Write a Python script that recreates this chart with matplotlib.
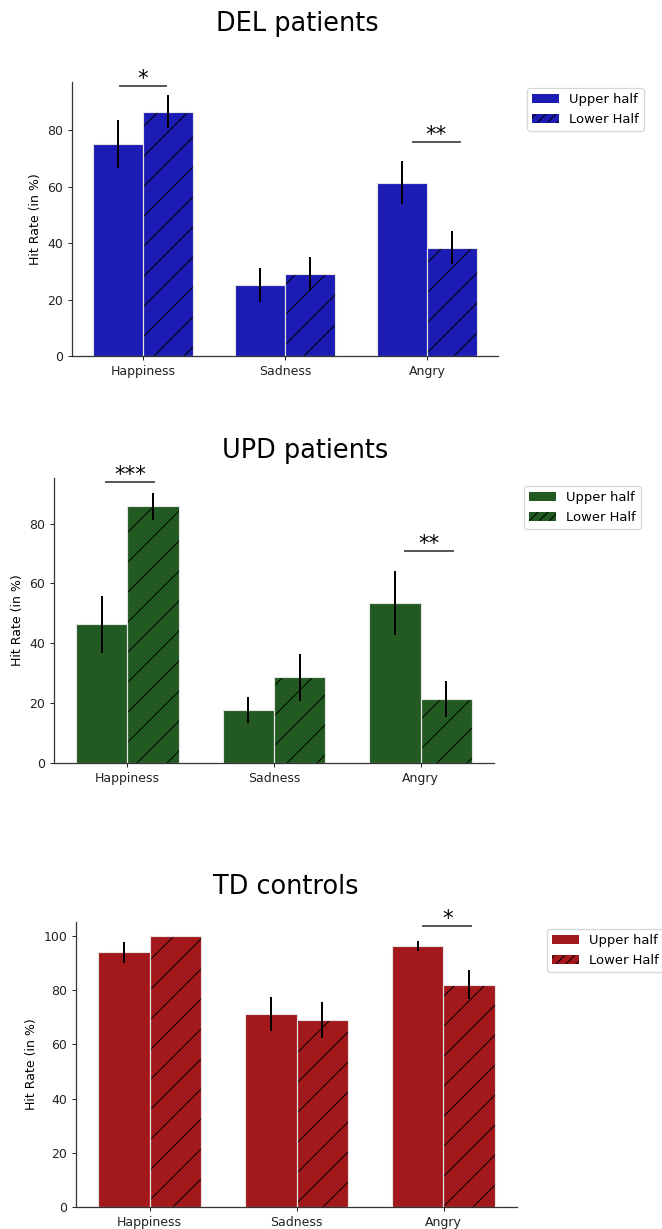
import matplotlib
matplotlib.use("Agg")
import matplotlib.pyplot as plt
from matplotlib.patches import Patch
import numpy as np

# image size in pixels (dpi 90 gives the sparse hatch of the original)
W, H = 662, 1229
DPI = 90

categories = ["Happiness", "Sadness", "Angry"]
series_labels = ["Upper half", "Lower Half"]

# DEL patients
del_upper = [75.0, 25.0, 61.4]
del_lower = [86.5, 28.9, 38.4]
del_upper_err = [8.4, 6.0, 7.5]
del_lower_err = [5.9, 6.0, 5.8]
del_sig_x = [0.0, 2.065]
del_sig_y = [95.6, 75.8]
del_sig_text = ["*", "**"]

# UPD patients
upd_upper = [46.3, 17.6, 53.4]
upd_lower = [85.7, 28.6, 21.3]
upd_upper_err = [9.4, 4.3, 10.6]
upd_lower_err = [4.6, 7.8, 6.0]
upd_sig_x = [0.02, 2.055]
upd_sig_y = [93.7, 70.9]
upd_sig_text = ["***", "**"]

# TD controls
td_upper = [94.0, 71.3, 96.4]
td_lower = [100.0, 69.0, 82.0]
td_upper_err = [3.8, 6.2, 1.8]
td_lower_err = [0.0, 6.7, 5.4]
td_sig_x = [2.025]
td_sig_y = [103.7]
td_sig_text = ["*"]

plt.rcParams['font.family'] = ['DejaVu Sans']
plt.rcParams['hatch.linewidth'] = 0.8

fig = plt.figure(figsize=(W / DPI, H / DPI), dpi=DPI)


def px_axes(left, top, right, bottom):
    # axes rectangle from pixel edges of the picture
    return fig.add_axes([left / W, 1 - bottom / H, (right - left) / W, (bottom - top) / H])


def draw_panel(ax, upper, lower, up_err, lo_err, color, ylim, yticks,
               sig_x, sig_y, sig_text):
    x = np.arange(len(categories))
    w = 0.35
    ax.bar(x - w / 2, upper, w, color=color, edgecolor=color, linewidth=0, zorder=2)
    ax.bar(x + w / 2, lower, w, color=color, edgecolor='black', linewidth=0,
           hatch='/', zorder=2)
    # light outline on all bars
    ax.bar(x - w / 2, upper, w, facecolor='none', edgecolor='#e4e4e4', linewidth=0.9, zorder=3)
    ax.bar(x + w / 2, lower, w, facecolor='none', edgecolor='#e4e4e4', linewidth=0.9, zorder=3)
    ax.errorbar(x - w / 2, upper, yerr=up_err, fmt='none', ecolor='black',
                elinewidth=1.6, capsize=0, zorder=4)
    ax.errorbar(x + w / 2, lower, yerr=lo_err, fmt='none', ecolor='black',
                elinewidth=1.6, capsize=0, zorder=4)

    for sx, sy, st in zip(sig_x, sig_y, sig_text):
        ax.plot([sx - 0.165, sx + 0.165], [sy, sy], color='#4d4d4d', lw=1.5,
                clip_on=False, zorder=5)
        ax.annotate(st, xy=(sx, sy), xytext=(0, 0.8), textcoords='offset points',
                    ha='center', va='baseline', fontsize=17, annotation_clip=False)

    ax.set_xlim(-0.5, 2.5)
    ax.set_ylim(*ylim)
    ax.set_yticks(yticks)
    ax.set_xticks(x)
    ax.set_xticklabels(categories)
    ax.tick_params(labelsize=10, colors='#222222')
    ax.set_ylabel("Hit Rate (in %)", fontsize=10)
    for side in ['top', 'right']:
        ax.spines[side].set_visible(False)
    for side in ['left', 'bottom']:
        ax.spines[side].set_color('#333333')
        ax.spines[side].set_linewidth(1.0)


def add_legend(color, left, top):
    handles = [Patch(facecolor=color, edgecolor=color, linewidth=0),
               Patch(facecolor=color, edgecolor='black', linewidth=0, hatch='///')]
    fig.legend(handles, series_labels, loc='upper left',
               bbox_to_anchor=(left / W, 1 - top / H), borderaxespad=0,
               fontsize=10.5, framealpha=0.8, edgecolor='#cccccc')


colors = ['#1c1cb4', '#225a22', '#a3181b']

ax1 = px_axes(72, 82, 498, 356)
draw_panel(ax1, del_upper, del_lower, del_upper_err, del_lower_err, colors[0],
           (0, 97), [0, 20, 40, 60, 80], del_sig_x, del_sig_y, del_sig_text)
fig.text(297 / W, 1 - 24 / H, "DEL patients", ha='center', va='center', fontsize=20.5)
add_legend(colors[0], 527, 88)

ax2 = px_axes(54, 478, 494, 763)
draw_panel(ax2, upd_upper, upd_lower, upd_upper_err, upd_lower_err, colors[1],
           (0, 95.2), [0, 20, 40, 60, 80], upd_sig_x, upd_sig_y, upd_sig_text)
fig.text(305 / W, 1 - 451 / H, "UPD patients", ha='center', va='center', fontsize=20.5)
add_legend(colors[1], 524, 486)

ax3 = px_axes(76, 922, 517, 1207)
draw_panel(ax3, td_upper, td_lower, td_upper_err, td_lower_err, colors[2],
           (0, 105.2), [0, 20, 40, 60, 80, 100], td_sig_x, td_sig_y, td_sig_text)
fig.text(286 / W, 1 - 887 / H, "TD controls", ha='center', va='center', fontsize=20.5)
add_legend(colors[2], 547, 929)

fig.savefig("out.png", dpi=DPI)
